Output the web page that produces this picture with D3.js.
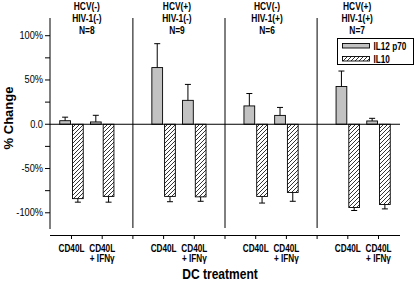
<!DOCTYPE html>
<html>
<head>
<meta charset="utf-8">
<script src="https://cdn.jsdelivr.net/npm/d3@7"></script>
<style>
  body { margin: 0; background: #fff; }
  text { font-family: "Liberation Sans", Arial, sans-serif; }
</style>
</head>
<body>
<div id="container"></div>
<script>
let w = 416;
let h = 281;

// data
let hcv = ["HCV(-)", "HCV(+)", "HCV(-)", "HCV(+)"];
let hiv = ["HIV-1(-)", "HIV-1(-)", "HIV-1(+)", "HIV-1(+)"];
let nLabels = ["N=8", "N=9", "N=6", "N=7"];
let treatments = ["CD40L", "CD40L|+ IFNγ"];
let il12 = [4, 2.6, 64, 27, 20.7, 10, 42.6, 3.7];
let il12Err = [4, 7.5, 27, 18, 14, 9, 17.5, 3];
let il10 = [-84, -81.5, -81.5, -82, -81.5, -77, -94, -90.6];
let il10Err = [4, 6.5, 6, 5, 7.5, 10, 3.4, 5];
let yTicks = [100, 75, 50, 25, 0, -25, -50, -75, -100];
let yLabels = {"100": "100%", "50": "50%", "0": "0.0", "-50": "-50%", "-100": "-100%"};
let legendNames = ["IL12 p70", "IL10"];

let viz = d3.select("#container").append("svg")
    .attr("width", w)
    .attr("height", h);

let defs = viz.append("defs");
defs.append("pattern")
    .attr("id", "hatch")
    .attr("patternUnits", "userSpaceOnUse")
    .attr("width", 4)
    .attr("height", 4)
  .append("path")
    .attr("d", "M-1,1 l2,-2 M0,4 l4,-4 M3,5 l2,-2")
    .attr("stroke", "#000")
    .attr("stroke-width", 0.8);

// narrow text, the figure looks squeezed sideways
function ntext(sel, tx, ty, s, size, sx) {
  return sel.append("text")
      .attr("transform", "translate(" + tx + "," + ty + ") scale(" + sx + ",1)")
      .attr("font-size", size)
      .text(s);
}

// slot positions: pairs at 1,2 | 4,5 | 7,8 | 10,11
let x = d3.scaleLinear().domain([0.3, 11.7]).range([50, 400]);
let y = d3.scaleLinear().domain([-120, 120]).range([230.5, 18]);

let slots = il12.map((v, i) => Math.floor(i / 2) * 3 + 1 + (i % 2));
let bw = x(0.35) - x(0);

// y axis
let yAxis = viz.append("g").attr("transform", "translate(50,0)");
yAxis.append("line").attr("x1", 0).attr("x2", 0).attr("y1", 18).attr("y2", 229).attr("stroke", "#000");
yAxis.selectAll(".tk").data(yTicks).enter().append("line")
    .attr("x1", -5).attr("x2", 0)
    .attr("y1", d => y(d)).attr("y2", d => y(d))
    .attr("stroke", "#000");
let yl = yAxis.append("g").attr("text-anchor", "end");
yTicks.filter(d => yLabels[d] !== undefined).forEach(d => {
  ntext(yl, -7, y(d) + 3.5, yLabels[d], 10.5, 0.88);
});

// separators
viz.selectAll(".sep").data([3, 6, 9]).enter().append("line")
    .attr("x1", d => x(d)).attr("x2", d => x(d))
    .attr("y1", 18).attr("y2", 228)
    .attr("stroke", "#000");

// bars
viz.selectAll(".g12").data(il12).enter().append("rect")
    .attr("x", (d, i) => x(slots[i]) - bw - 1)
    .attr("y", d => y(d))
    .attr("width", bw)
    .attr("height", d => y(0) - y(d))
    .attr("fill", "#c2c2c2")
    .attr("stroke", "#000")
    .attr("stroke-width", 0.9);
viz.selectAll(".g10").data(il10).enter().append("rect")
    .attr("x", (d, i) => x(slots[i]) + 1)
    .attr("y", y(0))
    .attr("width", bw)
    .attr("height", d => y(d) - y(0))
    .attr("fill", "url(#hatch)")
    .attr("stroke", "#000")
    .attr("stroke-width", 0.9);

// error bars
function errBars(vals, errs, cxf) {
  let g = viz.append("g").attr("stroke", "#000").attr("stroke-width", 1);
  vals.forEach((v, i) => {
    let cx = cxf(i);
    let e = v >= 0 ? v + errs[i] : v - errs[i];
    g.append("line").attr("x1", cx).attr("x2", cx).attr("y1", y(v)).attr("y2", y(e));
    g.append("line").attr("x1", cx - 3).attr("x2", cx + 3).attr("y1", y(e)).attr("y2", y(e));
  });
}
errBars(il12, il12Err, i => x(slots[i]) - 1 - bw / 2);
errBars(il10, il10Err, i => x(slots[i]) + 1 + bw / 2);

// zero line
viz.append("line").attr("x1", 50).attr("x2", 400).attr("y1", y(0)).attr("y2", y(0)).attr("stroke", "#000");

// x axis
let xa = viz.append("g").attr("stroke", "#000");
xa.append("line").attr("x1", 50).attr("x2", 400).attr("y1", 235.5).attr("y2", 235.5);
xa.selectAll(".xt").data(slots.concat([3, 6, 9])).enter().append("line")
    .attr("x1", d => x(d)).attr("x2", d => x(d))
    .attr("y1", 235.5).attr("y2", 239);

let xl = viz.append("g").attr("font-weight", "bold").attr("text-anchor", "middle");
slots.forEach((s, i) => {
  let lines = treatments[i % 2].split("|");
  lines.forEach((t, j) => {
    ntext(xl, x(s), 251.5 + j * 10.5, t, 10, 0.82);
  });
});

// group headers
let hd = viz.append("g").attr("font-weight", "bold").attr("text-anchor", "middle");
hcv.forEach((t, g) => {
  let cx = x(g * 3 + 1.5) - g * 2;
  [t, hiv[g], nLabels[g]].forEach((s, j) => {
    ntext(hd, cx, 9.5 + j * 12, s, 10.5, 0.8);
  });
});

// axis titles
viz.append("text")
    .attr("transform", "translate(13," + 118 + ") rotate(-90)")
    .attr("text-anchor", "middle")
    .attr("font-size", 13)
    .attr("font-weight", "bold")
    .text("% Change");
ntext(viz.append("g").attr("font-weight", "bold").attr("text-anchor", "middle"),
    220, 279, "DC treatment", 14, 0.86);

// legend
let lg = viz.append("g");
lg.append("rect").attr("x", 337.5).attr("y", 38.5).attr("width", 76).attr("height", 26)
    .attr("fill", "#fff").attr("stroke", "#000");
lg.selectAll(".sw").data(legendNames).enter().append("rect")
    .attr("x", 342.5).attr("y", (d, i) => 43.5 + i * 13)
    .attr("width", 27).attr("height", 4.5)
    .attr("fill", (d, i) => i == 0 ? "#c2c2c2" : "url(#hatch)")
    .attr("stroke", "#000").attr("stroke-width", 0.9);
let lt = lg.append("g").attr("font-weight", "bold");
legendNames.forEach((d, i) => {
  ntext(lt, 373.5, 50 + i * 13, d, 10, 0.82);
});
</script>
</body>
</html>
